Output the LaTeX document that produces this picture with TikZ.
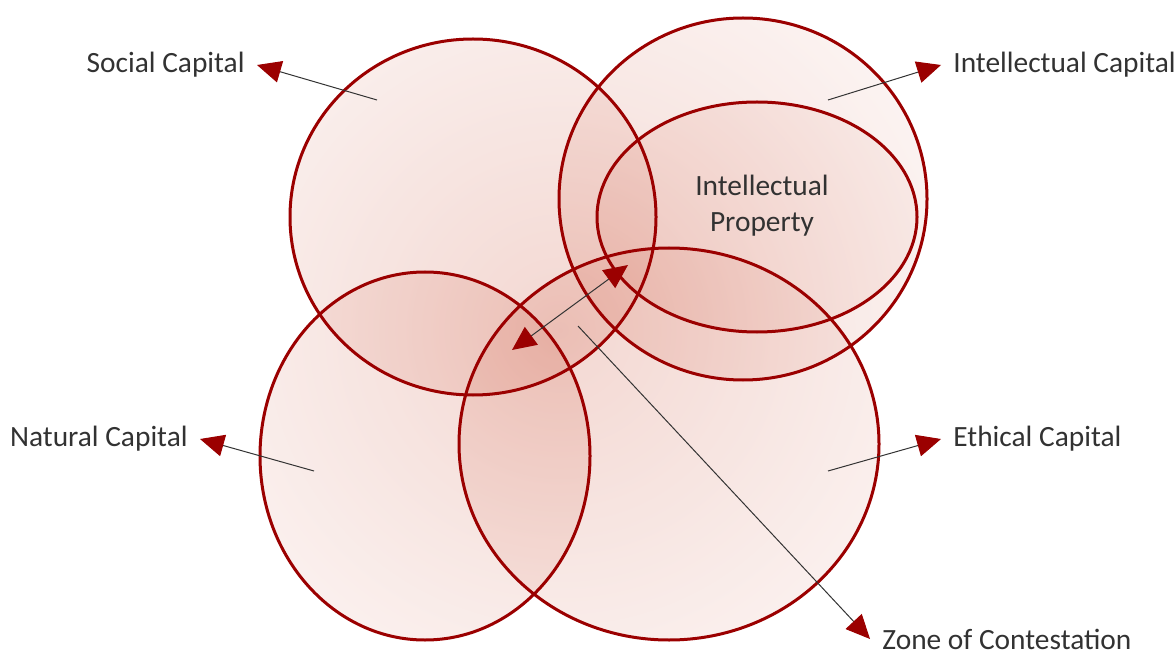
\documentclass[tikz,border=0pt]{standalone}
\usepackage{fontspec}
\setmainfont{Carlito}
\usetikzlibrary{arrows.meta}

\definecolor{rim}{RGB}{155,0,0}
\definecolor{blush}{RGB}{222,146,130}
\definecolor{ink}{RGB}{50,50,50}

\begin{document}
\begin{tikzpicture}[
  x=0.5pt, y=-0.5pt,
  font=\fontsize{14.7}{18}\selectfont,
  outline/.style={draw=rim, line width=1.5pt},
  lbl/.style={text=ink, inner sep=6pt, align=center},
  tip/.tip={Triangle[length=12pt, width=11pt, color=rim]},
  ptr/.style={draw=black!80, line width=0.5pt, -tip},
  bothptr/.style={ptr, tip-tip}
]
  \useasboundingbox (0,0) rectangle (1176,657);

  %% soft fills, darker towards the middle
  \foreach \cx/\cy/\rx/\ry in {473/217/183/178, 743/199/184/181, 425/456/165/184,
                               669/444/210/196, 757/217/160/115} {
    \begin{scope}
      \clip (\cx,\cy) ellipse [x radius=\rx, y radius=\ry];
      \shade[inner color=blush, outer color=white, fill opacity=0.36] (560,330) circle (590);
    \end{scope}
  }

  %% rims
  \foreach \cx/\cy/\rx/\ry in {473/217/183/178, 743/199/184/181, 425/456/165/184,
                               669/444/210/196, 757/217/160/115}
    \draw[outline] (\cx,\cy) ellipse [x radius=\rx, y radius=\ry];

  %% labels
  \node[lbl, anchor=east] (social) at (257,65) {Social Capital};
  \node[lbl, anchor=west] (intcap) at (941,65) {Intellectual Capital};
  \node[lbl, anchor=east] (natural) at (200,439) {Natural Capital};
  \node[lbl, anchor=west] (ethical) at (941,439) {Ethical Capital};
  \node[lbl, anchor=west] (zone) at (870,639) {Zone of Contestation};
  \node[lbl] (ip) at (762,206) {Intellectual\\Property};

  %% pointer starts
  \coordinate (socialin) at (377,100);
  \coordinate (intcapin) at (828,100);
  \coordinate (naturalin) at (314,471);
  \coordinate (ethicalin) at (828,471);
  \coordinate (zonein) at (578,326);
  \coordinate (za) at (512,350);
  \coordinate (zb) at (628,265);

  \draw[ptr] (socialin) -- (social.east);
  \draw[ptr] (intcapin) -- (intcap.west);
  \draw[ptr] (naturalin) -- (natural.east);
  \draw[ptr] (ethicalin) -- (ethical.west);
  \draw[ptr] (zonein) -- (zone.west);
  \draw[bothptr] (za) -- (zb);
\end{tikzpicture}
\end{document}
